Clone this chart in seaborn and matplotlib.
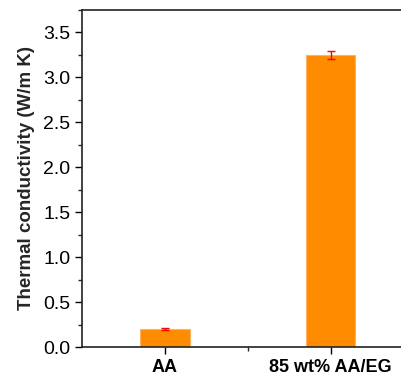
import matplotlib
matplotlib.use('Agg')
import matplotlib.pyplot as plt
import numpy as np
import pandas as pd
import seaborn as sns
from matplotlib.ticker import MultipleLocator, FixedLocator

samples = ['AA', '85 wt% AA/EG']
conductivity = [0.20, 3.25]
conductivity_err = [0.01, 0.04]

sns.set_theme(style='ticks')
plt.rcParams['font.family'] = ['Liberation Sans', 'DejaVu Sans']

df = pd.DataFrame({'sample': samples, 'k': conductivity, 'err': conductivity_err})

fig = plt.figure(figsize=(4.02, 3.77), dpi=100)
ax = fig.add_axes([82 / 402, 30 / 377, 331.5 / 402, 337 / 377])

sns.barplot(data=df, x='sample', y='k', color='#FF8C00', width=0.3,
            saturation=1, edgecolor='#FFB266', linewidth=0.8, ax=ax)
ax.errorbar(np.arange(len(samples)), df['k'], yerr=df['err'], fmt='none',
            ecolor='red', elinewidth=1, capsize=3, capthick=1)

ax.set_xlim(-0.5, 1.5)
ax.set_ylim(0, 3.75)
ax.yaxis.set_major_locator(MultipleLocator(0.5))
ax.yaxis.set_minor_locator(MultipleLocator(0.25))
ax.xaxis.set_minor_locator(FixedLocator([0.5]))
ax.tick_params(axis='both', which='major', direction='out', length=5, width=1,
               colors='black')
ax.tick_params(axis='y', which='major', labelsize=14)
ax.tick_params(axis='x', which='major', labelsize=13)
ax.tick_params(axis='both', which='minor', direction='out', length=3, width=1)
for lbl in ax.get_xticklabels():
    lbl.set_fontweight('bold')
ax.set_xlabel('')
ax.set_ylabel('Thermal conductivity (W/m K)', fontsize=13.5, fontweight='bold',
              labelpad=6)
for sp in ax.spines.values():
    sp.set_visible(True)
    sp.set_linewidth(1.2)
    sp.set_color('#222222')

fig.savefig('out.png', dpi=100)
